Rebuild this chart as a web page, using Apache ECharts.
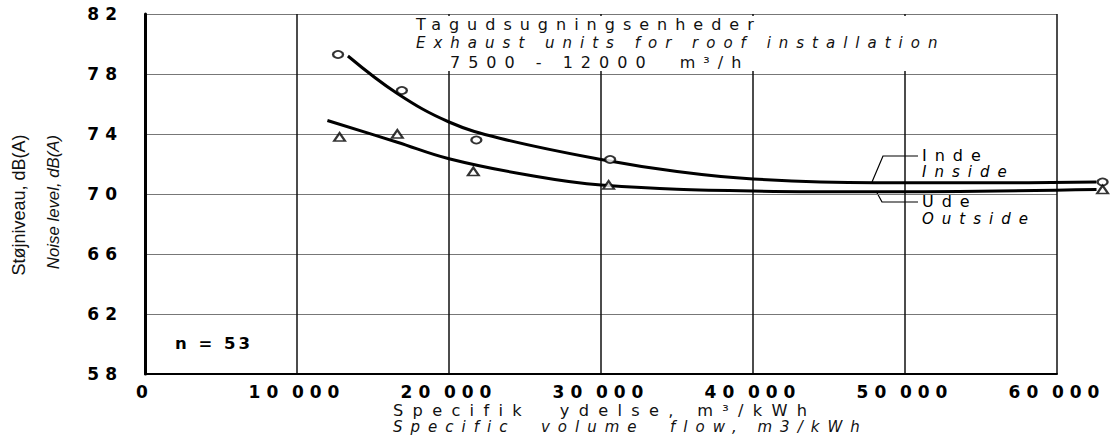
<!DOCTYPE html>
<html>
<head>
<meta charset="utf-8">
<script src="https://cdn.jsdelivr.net/npm/echarts@6/dist/echarts.min.js"></script>
<style>
html, body { margin: 0; background: #fff; }
#chart { width: 1116px; height: 440px; }
/* technical lettering is widely spaced */
#chart text { letter-spacing: 8px; }
#chart text[style*="16.2px"] { letter-spacing: 9.3px; }
#chart text[style*="17px"] { letter-spacing: 6px; }
#chart text[style*="16.5px"] { letter-spacing: 3px; }
#chart text[style*="18px"], #chart text[style*="16.8px"] { letter-spacing: 0; }
</style>
</head>
<body>
<div id="chart"></div>
<script>
// measured points (circles = inside, triangles = outside)
var insideX = [12700, 16900, 21800, 30600, 63000];
var insideY = [79.3, 76.9, 73.6, 72.3, 70.8];
var outsideX = [12800, 16600, 21600, 30500, 63000];
var outsideY = [73.8, 74.0, 71.5, 70.6, 70.3];

// fitted curves
var insideCurveX = [13350, 16600, 20000, 23400, 30000, 35000, 40000, 48000, 56000, 62600];
var insideCurveY = [79.2, 76.7, 74.8, 73.7, 72.3, 71.5, 71.0, 70.75, 70.75, 70.8];
var outsideCurveX = [12000, 16600, 20000, 25000, 30000, 40000, 48000, 62600];
var outsideCurveY = [74.9, 73.45, 72.35, 71.3, 70.6, 70.2, 70.15, 70.3];

var xMin = 0, xMax = 60000, xStep = 10000;
var yMin = 58, yMax = 82, yStep = 4;
// the data run a little past the framed area, so they sit on a wider hidden grid
var xMaxData = 63500;

function pairs(xs, ys) {
	return xs.map(function (x, i) { return [x, ys[i]]; });
}

var gridLeft = 145, gridRight = 59, gridTop = 14, gridBottom = 66;
var frameWidth = 1116 - gridLeft - gridRight;
var dataRight = 1116 - gridLeft - frameWidth * xMaxData / xMax;

var chart = echarts.init(document.getElementById('chart'), null, { renderer: 'svg' });

var txt = function (x, y, text, size, extra) {
	var style = {
		text: text, fontSize: size, fontFamily: 'DejaVu Sans', fill: '#111',
		lineHeight: 14, verticalAlign: 'middle', textVerticalAlign: 'middle'
	};
	for (var k in extra) style[k] = extra[k];
	return { type: 'text', x: x, y: y, z: 60, style: style };
};

var option = {
	animation: false,
	backgroundColor: '#fff',
	grid: [
		{ left: gridLeft, right: gridRight, top: gridTop, bottom: gridBottom },
		{ left: gridLeft, right: dataRight, top: gridTop, bottom: gridBottom }
	],
	xAxis: [{
		type: 'value', gridIndex: 0,
		min: xMin, max: xMax, interval: xStep,
		axisLine: { show: true, lineStyle: { color: '#000', width: 2 } },
		axisTick: { show: false },
		splitLine: { show: true, lineStyle: { color: '#111', width: 1.5 } },
		axisLabel: {
			margin: 9,
			color: '#000',
			fontSize: 17,
			fontWeight: 'bold',
			fontFamily: 'DejaVu Sans',
			formatter: function (v) { return v === 0 ? '0' : (v / 1000) + '\u200a000'; }
		}
	}, {
		type: 'value', gridIndex: 1, min: xMin, max: xMaxData, show: false
	}],
	yAxis: [{
		type: 'value', gridIndex: 0,
		min: yMin, max: yMax, interval: yStep,
		axisLine: { show: true, lineStyle: { color: '#000', width: 3 } },
		axisTick: { show: false },
		splitLine: { show: true, lineStyle: { color: '#777', width: 1 } },
		axisLabel: {
			margin: 22,
			color: '#000',
			fontSize: 17,
			fontWeight: 'bold',
			fontFamily: 'DejaVu Sans'
		}
	}, {
		type: 'value', gridIndex: 1, min: yMin, max: yMax, show: false
	}],
	series: [
		{
			name: 'Inde curve', type: 'line', xAxisIndex: 1, yAxisIndex: 1,
			data: pairs(insideCurveX, insideCurveY),
			smooth: 0.4, showSymbol: false, clip: false,
			lineStyle: { color: '#000', width: 3 }, z: 3
		},
		{
			name: 'Ude curve', type: 'line', xAxisIndex: 1, yAxisIndex: 1,
			data: pairs(outsideCurveX, outsideCurveY),
			smooth: 0.4, showSymbol: false, clip: false,
			lineStyle: { color: '#000', width: 3 }, z: 3
		},
		{
			name: 'Inde', type: 'scatter', xAxisIndex: 1, yAxisIndex: 1,
			data: pairs(insideX, insideY),
			symbol: 'circle', symbolSize: [10, 7], clip: false,
			itemStyle: { color: '#fff', borderColor: '#000', borderWidth: 2 }, z: 4
		},
		{
			name: 'Ude', type: 'scatter', xAxisIndex: 1, yAxisIndex: 1,
			data: pairs(outsideX, outsideY),
			symbol: 'triangle', symbolSize: [11, 8], clip: false,
			itemStyle: { color: '#fff', borderColor: '#000', borderWidth: 2 }, z: 4
		}
	],
	graphic: [
		// title box sits on the grid and hides the lines under it
		{ type: 'rect', shape: { x: 400, y: 16, width: 654, height: 55 }, style: { fill: '#fff' }, z: 50, silent: true },
		txt(416, 24, 'Tagudsugningsenheder', 16),
		txt(416, 43, 'Exhaust units for roof installation', 15, { fontStyle: 'italic' }),
		txt(450, 62, '7500 - 12000  m³/h', 16),

		txt(393, 410, 'Specifik  ydelse, m³/kWh', 16.2),
		txt(393, 427, 'Specific  volume  flow, m3/kWh', 15, { fontStyle: 'italic' }),

		{ type: 'text', x: 19, y: 205, rotation: Math.PI / 2, style: { text: 'Støjniveau, dB(A)', fontSize: 18, fontFamily: 'Liberation Sans', fill: '#111', align: 'center', textAlign: 'center', verticalAlign: 'middle', textVerticalAlign: 'middle' } },
		{ type: 'text', x: 53, y: 202, rotation: Math.PI / 2, style: { text: 'Noise level, dB(A)', fontSize: 16.8, fontStyle: 'italic', fontFamily: 'Liberation Sans', fill: '#111', align: 'center', textAlign: 'center', verticalAlign: 'middle', textVerticalAlign: 'middle' } },

		txt(175, 343, 'n = 53', 16.5, { fontWeight: 'bold', fill: '#000' }),

		{ type: 'polyline', shape: { points: [[872, 182], [883, 156], [918, 156]] }, style: { stroke: '#000', lineWidth: 1.2, fill: null } },
		{ type: 'polyline', shape: { points: [[876, 191], [882, 202], [918, 202]] }, style: { stroke: '#000', lineWidth: 1.2, fill: null } },
		txt(922, 155, 'Inde', 16, { fill: '#000' }),
		txt(922, 172, 'Inside', 15, { fontStyle: 'italic', fill: '#000' }),
		txt(922, 201, 'Ude', 16, { fill: '#000' }),
		txt(922, 219, 'Outside', 15, { fontStyle: 'italic', fill: '#000' })
	]
};

chart.setOption(option);
</script>
</body>
</html>
